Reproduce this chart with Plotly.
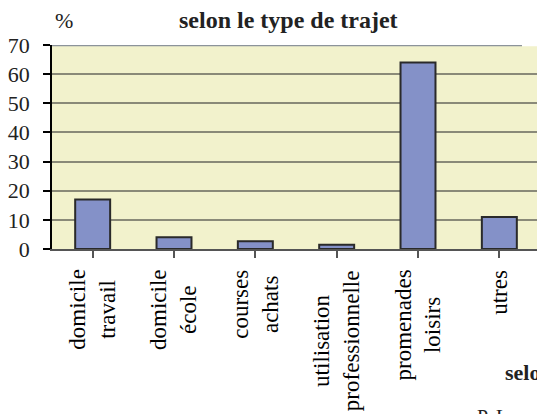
import plotly.graph_objects as go

categories = ["domicile<br>travail", "domicile<br>école", "courses<br>achats",
              "utilisation<br>professionnelle", "promenades<br>loisirs", "utres"]
values = [17, 4, 2.7, 1.5, 64, 11]
y_ticks = [0, 10, 20, 30, 40, 50, 60, 70]

FONT = "Liberation Serif"
x_idx = list(range(len(categories)))

fig = go.Figure()
fig.add_trace(go.Bar(
    x=x_idx, y=values, width=0.43,
    marker=dict(color="#8491C8", line=dict(color="#2A2A2A", width=2)),
    hoverinfo="skip",
))

annotations = []
for i, c in enumerate(categories):
    annotations.append(dict(
        x=i, xref="x", y=-0.093, yref="paper", text=c, showarrow=False,
        textangle=-90, xanchor="center", yanchor="top", align="center",
        font=dict(family=FONT, size=23, color="black"),
    ))
annotations += [
    dict(x=0.4866, xref="paper", y=1.1225, yref="paper", text="<b>selon le type de trajet</b>",
         showarrow=False, xanchor="center", yanchor="middle",
         font=dict(family=FONT, size=24, color="#222222")),
    dict(x=0.002, xref="paper", y=1.1225, yref="paper", text="%",
         showarrow=False, xanchor="left", yanchor="middle",
         font=dict(family=FONT, size=22, color="#222222")),
    dict(x=0.93, xref="paper", y=-0.603, yref="paper", text="<b>selo</b>",
         showarrow=False, xanchor="left", yanchor="middle",
         font=dict(family=FONT, size=22, color="#222222")),
    dict(x=0.872, xref="paper", y=-0.76, yref="paper", text="P. L",
         showarrow=False, xanchor="left", yanchor="top",
         font=dict(family=FONT, size=20, color="#222222")),
]

fig.update_layout(
    width=537, height=414,
    margin=dict(l=52, r=0, t=45, b=165),
    paper_bgcolor="white", plot_bgcolor="#F2F2CC",
    showlegend=False,
    annotations=annotations,
    shapes=[
        dict(type="line", xref="paper", yref="y", x0=0.969, x1=1.0, y0=70, y1=70,
             line=dict(color="white", width=2.5), layer="above"),
        dict(type="line", xref="paper", yref="y", x0=0, x1=0.969, y0=70, y1=70,
             line=dict(color="#8C939A", width=2.5), layer="above"),
    ],
    xaxis=dict(range=[-0.5, 5.463], tickmode="array", tickvals=x_idx, ticktext=[""] * 6,
               showticklabels=False, tickson="boundaries", ticks="outside", ticklen=7,
               tickcolor="#555555", tickwidth=1.5, showline=True, linecolor="#555555",
               linewidth=2, showgrid=False, zeroline=False, fixedrange=True),
    yaxis=dict(range=[0, 70], tickvals=y_ticks, ticks="outside", ticklen=7,
               tickcolor="black", tickwidth=1.5, showline=True, linecolor="black",
               linewidth=1.5, showgrid=True, gridcolor="#8A8A78", gridwidth=1.5,
               zeroline=False, ticklabelstandoff=9,
               tickfont=dict(family=FONT, size=22, color="#222222"), fixedrange=True),
)

fig.write_html("out.html", config={"displayModeBar": False},
               post_script="document.body.style.margin='0';")
